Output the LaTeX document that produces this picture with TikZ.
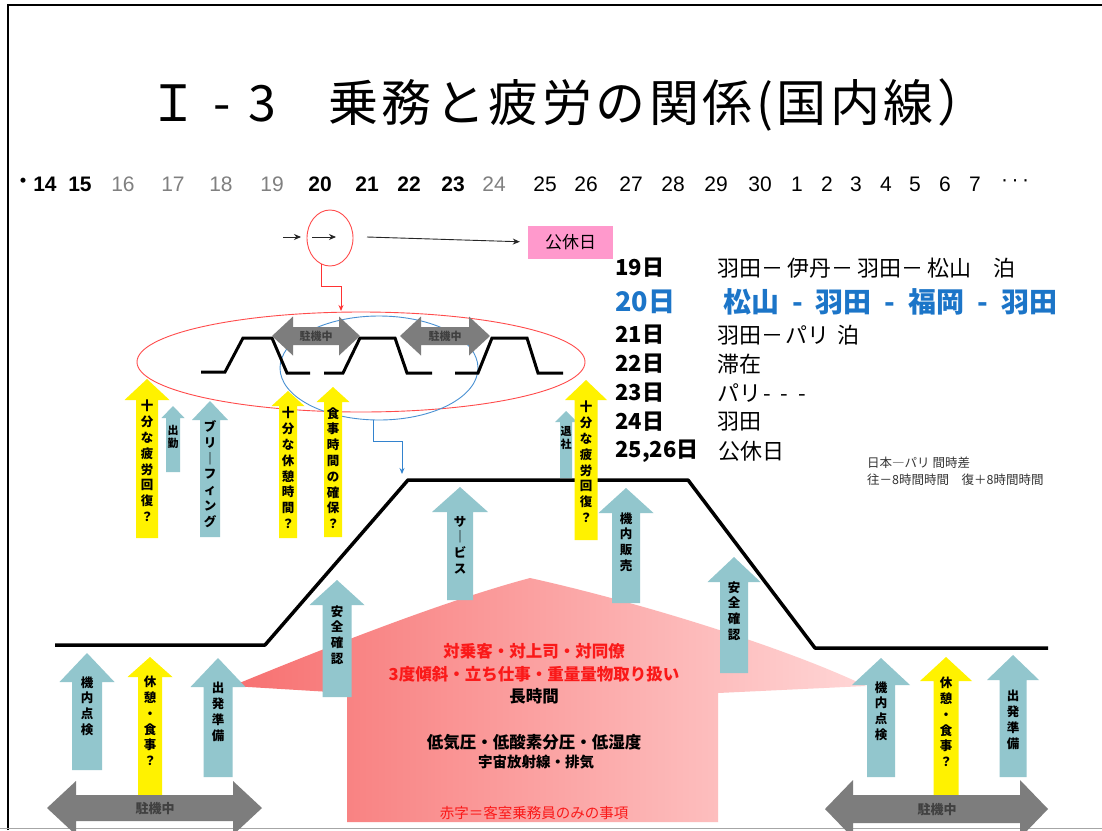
\documentclass[tikz,border=0pt]{standalone}
\usepackage{fontspec}
\setmainfont{Liberation Sans}
\newfontfamily\jp{Noto Sans CJK JP}
\usetikzlibrary{arrows.meta,shapes.geometric}

\definecolor{teal1}{RGB}{146,198,205}
\definecolor{parkgray}{RGB}{125,125,125}
\definecolor{offpink}{RGB}{255,153,204}
\definecolor{blue20}{RGB}{28,117,200}
\definecolor{roofL}{RGB}{247,112,112}
\definecolor{roofR}{RGB}{255,214,214}
\definecolor{redtxt}{RGB}{250,25,25}

% up arrow: x, tip y, bottom y, shaft half, head half, head length, colour
\newcommand{\upArr}[7]{\fill[#7] (#1-#4,#3) -- (#1-#4,#2+#6) -- (#1-#5,#2+#6) -- (#1,#2) -- (#1+#5,#2+#6) -- (#1+#4,#2+#6) -- (#1+#4,#3) -- cycle;}
% double arrow: left x, right x, mid y, shaft half, head half, head length
\newcommand{\dblArr}[6]{\fill[parkgray] (#1,#3) -- (#1+#6,#3-#5) -- (#1+#6,#3-#4) -- (#2-#6,#3-#4) -- (#2-#6,#3-#5) -- (#2,#3) -- (#2-#6,#3+#5) -- (#2-#6,#3+#4) -- (#1+#6,#3+#4) -- (#1+#6,#3+#5) -- cycle;}

\tikzset{
  day/.style={font=\fontsize{21}{21}\selectfont, inner sep=0pt},
  dayb/.style={day, font=\bfseries\fontsize{21}{21}\selectfont},
  dayg/.style={day, text=black!50},
  ttlfont/.style={font=\jp\fontsize{50}{50}\selectfont, inner sep=0pt, anchor=base},
  vtxt/.style={font=\jp\bfseries\fontsize{12.5}{15.8}\selectfont, align=center, inner sep=0pt},
  vsm/.style={vtxt, font=\jp\bfseries\fontsize{11}{12.5}\selectfont},
  parklab/.style={font=\jp\bfseries\fontsize{11}{11}\selectfont, text=black!75, inner sep=0pt},
  rowlab/.style={anchor=west, font=\jp\bfseries\fontsize{22}{22}\selectfont, inner sep=0pt},
  rowtxt/.style={anchor=west, font=\jp\fontsize{22}{22}\selectfont, inner sep=0pt},
  pinktxt/.style={font=\jp\bfseries\fontsize{16.5}{16.5}\selectfont, inner sep=0pt},
  thinarr/.style={-{Stealth[length=7pt,width=6pt]}, line width=0.9pt, black!85},
  pulse/.style={line width=3pt, black},
}

\begin{document}
\begin{tikzpicture}[x=1pt,y=-1pt]
\useasboundingbox[fill=white] (0,0) rectangle (1102,830);
% frame
\draw[line width=1.5pt] (8,830) -- (8,5) -- (1102,5);
\draw[black!35, line width=1pt] (0,828.5) -- (1102,828.5);

% title
\node[ttlfont] (ttlI) at (173,121) {Ｉ};
\node[ttlfont] (ttlDash) at (222,121) {-};
\node[ttlfont] (ttlNo) at (262,121) {3};
\node[ttlfont, anchor=base west] (ttl) at (328,121) {\addfontfeature{LetterSpace=7}乗務と疲労の関係(国内線）};

% day row
\node[font=\jp\bfseries\fontsize{18}{18}\selectfont, inner sep=0pt] (tdot) at (23,183) {・};
\foreach \xx/\lab/\sty in {45/14/dayb, 80/15/dayb, 123/16/dayg, 173/17/dayg, 221/18/dayg,
  272/19/dayg, 320/20/dayb, 367/21/dayb, 409/22/dayb, 453/23/dayb, 494/24/dayg, 545/25/day,
  586/26/day, 631/27/day, 673/28/day, 716/29/day, 760/30/day, 797/1/day, 827/2/day,
  856/3/day, 886/4/day, 915/5/day, 945/6/day, 975/7/day}
  \node[\sty] (t\lab) at (\xx,184) {\lab};
\node[day] (tmore) at (1015,183) {·\,·\,·};

% the 20th and the days off
\coordinate (a1s) at (283,237);
\coordinate (a1e) at (301,237);
\coordinate (a2s) at (312,237);
\coordinate (a2e) at (336,237);
\coordinate (a3s) at (367,237);
\draw[thinarr] (a1s) -- (a1e);
\draw[thinarr] (a2s) -- (a2e);
\node[draw=red!70, line width=0.9pt, ellipse, minimum width=46, minimum height=56, inner sep=0pt] (dayOval) at (330,238) {};
\node[fill=offpink, minimum width=85, minimum height=33, inner sep=0pt,
      font=\jp\fontsize{17}{17}\selectfont] (offDay) at (570.5,242) {公休日};
\draw[thinarr, shorten >=8pt] (a3s) -- (offDay.west);

% fatigue loop
\draw[red!70, line width=0.9pt] (361,362) ellipse [x radius=224, y radius=50];
\draw[blue20!80, line width=0.9pt] (379,368) ellipse [x radius=99, y radius=52];
\coordinate (redTip) at (341,311);
\draw[red!80, line width=0.9pt, -{Stealth[length=6pt,width=5pt]}] (dayOval.252) -- ++(0,22) -| (redTip);
\coordinate (blueFoot) at (373,420);
\coordinate (blueTip) at (402,474);
\draw[blue20!90, line width=0.9pt, -{Stealth[length=6pt,width=5pt]}] (blueFoot) -- ++(0,21) -| (blueTip);

% flights of the day
\draw[pulse] (201,372) -- (225,372) -- (243,338) -- (272,338) -- (287,373) -- (310,373);
\draw[pulse] (324,373) -- (343,373) -- (360,338) -- (395,338) -- (407,373) -- (432,373);
\draw[pulse] (455,373) -- (478,373) -- (492,338) -- (527,338) -- (538,373) -- (563,373);
\dblArr{272}{360}{336}{9}{19.5}{21}
\dblArr{400}{490}{336}{9}{19.5}{21}
\node[parklab] (park1) at (316,336) {駐機中};
\node[parklab] (park2) at (445,336) {駐機中};

% flight profile
\draw[line width=3.5pt, line join=round] (55,645) -- (265,645) -- (408,480) -- (688,480) -- (815,648) -- (1048,648);

% cabin load
\shade[left color=roofL, right color=roofR] (347,822) -- (347,693) -- (232,686)
  .. controls (320,650) and (440,602) .. (530,578)
  .. controls (630,600) and (780,645) .. (866,686) -- (718,693) -- (718,822) -- cycle;
\node[pinktxt, text=redtxt] (pk1) at (534,651) {対乗客・対上司・対同僚};
\node[pinktxt, text=redtxt] (pk2) at (534,674) {3度傾斜・立ち仕事・重量量物取り扱い};
\node[pinktxt] (pk3) at (534,696) {長時間};
\node[pinktxt] (pk4) at (534,742) {低気圧・低酸素分圧・低湿度};
\node[pinktxt, font=\jp\bfseries\fontsize{14.5}{14.5}\selectfont] (pk5) at (536,762) {宇宙放射線・排気};
\node[pinktxt, text=redtxt, font=\jp\fontsize{14.5}{14.5}\selectfont] (pk6) at (534,813) {赤字＝客室乗務員のみの事項};

% arrows round the first flight
\upArr{147}{379}{538}{11}{22.5}{21}{yellow}
\upArr{173}{406}{472}{7}{11.5}{12}{teal1}
\upArr{210}{401}{537}{10}{18}{19}{teal1}
\upArr{288}{391}{538}{9}{16.5}{15}{yellow}
\upArr{333}{387}{537}{9}{16.5}{15}{yellow}
\upArr{566}{411}{478}{6}{11}{11}{teal1}
\upArr{586}{380}{540}{11.5}{21}{20}{yellow}
\upArr{626}{488}{603}{14}{27.5}{25}{teal1}
\upArr{460}{487}{600}{13}{28}{25}{teal1}
\upArr{337}{580}{697}{14.5}{27.5}{25}{teal1}
\upArr{734}{557}{673}{14}{26.5}{25}{teal1}
\node[vtxt] (rec1) at (147,461) {十\\分\\な\\疲\\労\\回\\復\\？};
\node[vsm] (shk) at (173,437) {出\\勤};
\node[vtxt] (brf) at (210,474) {ブ\\リ\\｜\\フ\\ィ\\ン\\グ};
\node[vtxt] (rst) at (288,468) {十\\分\\な\\休\\憩\\時\\間\\？};
\node[vtxt] (meal) at (333,468) {食\\事\\時\\間\\の\\確\\保\\？};
\node[vsm] (tsk) at (566,438) {退\\社};
\node[vtxt] (rec2) at (586,462) {十\\分\\な\\疲\\労\\回\\復\\？};
\node[vtxt] (sale) at (626,542) {機\\内\\販\\売};
\node[vtxt] (svc) at (460,545) {サ\\｜\\ビ\\ス};
\node[vtxt] (saf1) at (337,635) {安\\全\\確\\認};
\node[vtxt] (saf2) at (734,611) {安\\全\\確\\認};

% ground work
\upArr{87}{653}{770}{15}{27.5}{29}{teal1}
\upArr{150}{657}{795}{12}{22.5}{20}{yellow}
\upArr{218}{658}{777}{14.5}{27.5}{29}{teal1}
\upArr{881}{658}{777}{14}{29}{27}{teal1}
\upArr{946}{657}{795}{12.5}{26}{24}{yellow}
\upArr{1013}{655}{777}{13.5}{26}{25}{teal1}
\node[vtxt] (chk1) at (87,706) {機\\内\\点\\検};
\node[vtxt] (brk1) at (150,721) {休\\憩\\・\\食\\事\\？};
\node[vtxt] (prp1) at (218,712) {出\\発\\準\\備};
\node[vtxt] (chk2) at (881,711) {機\\内\\点\\検};
\node[vtxt] (brk2) at (946,722) {休\\憩\\・\\食\\事\\？};
\node[vtxt] (prp2) at (1013,720) {出\\発\\準\\備};
\dblArr{47}{262}{808}{13}{27}{29}
\dblArr{825}{1048}{809}{14}{29}{28}
\node[parklab, font=\jp\bfseries\fontsize{13}{13}\selectfont] (park3) at (155,808) {駐機中};
\node[parklab, font=\jp\bfseries\fontsize{13}{13}\selectfont] (park4) at (937,809) {駐機中};

% schedule
\node[rowlab] (d19) at (615,268) {19日};
\node[rowtxt] (r19) at (717,268) {羽田－\hspace{4pt}伊丹－\hspace{4pt}羽田－\hspace{4pt}松山　泊};
\node[rowlab, text=blue20, font=\jp\bfseries\fontsize{27}{27}\selectfont] (d20) at (615,302) {20日};
\node[rowlab, text=blue20, font=\jp\bfseries\fontsize{28}{28}\selectfont] (r20) at (723,302)
  {松山\hspace{13pt}-\hspace{13pt}羽田\hspace{13pt}-\hspace{13pt}福岡\hspace{13pt}-\hspace{13pt}羽田};
\node[rowlab] (d21) at (615,335) {21日};
\node[rowtxt] (r21) at (717,335) {羽田－\hspace{2pt}パリ\hspace{8pt}泊};
\node[rowlab] (d22) at (615,364) {22日};
\node[rowtxt] (r22) at (717,364) {滞在};
\node[rowlab] (d23) at (615,393) {23日};
\node[rowtxt] (r23) at (717,393) {パリ\hspace{2pt}-\hspace{10pt}-\hspace{10pt}-};
\node[rowlab] (d24) at (615,422) {24日};
\node[rowtxt] (r24) at (717,422) {羽田};
\node[rowlab] (d25) at (615,451) {25,26日};
\node[rowtxt] (r25) at (718,451) {公休日};
\node[anchor=west, inner sep=0pt, font=\jp\fontsize{12.5}{12.5}\selectfont, text=black!80] (tz1) at (867,463) {日本―パリ 間時差};
\node[anchor=west, inner sep=0pt, font=\jp\fontsize{12.5}{12.5}\selectfont, text=black!80] (tz2) at (867,480) {往－8時間時間　復＋8時間時間};
\end{tikzpicture}
\end{document}
